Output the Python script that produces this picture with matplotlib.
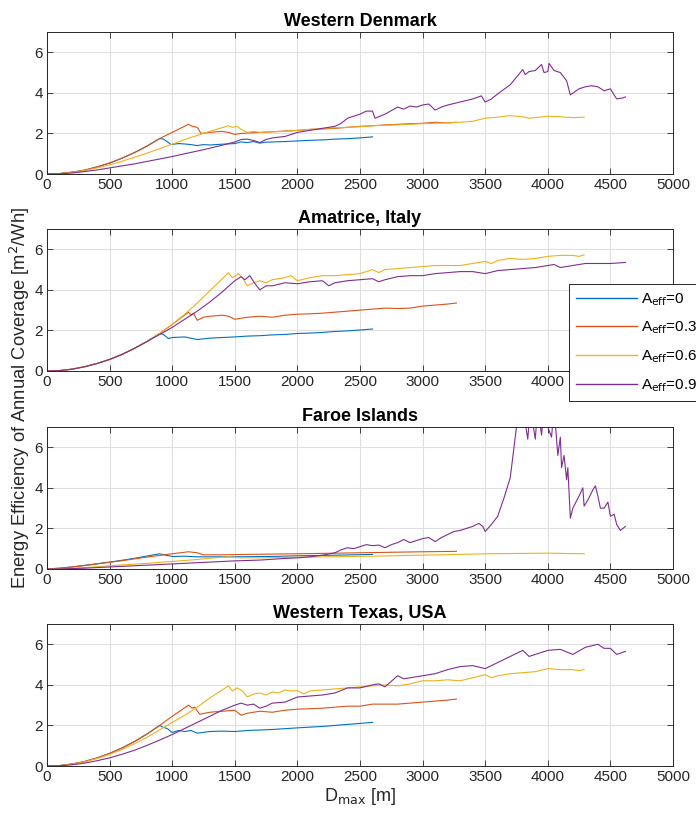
import numpy as np
import matplotlib.pyplot as plt

plt.rcParams['font.family'] = ['Liberation Sans', 'DejaVu Sans']

#data, x = D_max [m], y = energy efficiency
#Western Denmark
dk_a0_x = [0, 100, 200, 300, 400, 500, 600, 700, 800, 900, 930, 960, 990, 1050, 1100, 1150, 1200, 1250, 1300, 1400, 1500, 1550, 1600, 1650, 1700, 1750, 1800, 1900, 2000, 2100, 2200, 2300, 2400, 2500, 2600]
dk_a0_y = [0, 0.02, 0.09, 0.19, 0.35, 0.54, 0.78, 1.06, 1.38, 1.75, 1.72, 1.6, 1.45, 1.5, 1.48, 1.45, 1.4, 1.45, 1.43, 1.47, 1.5, 1.58, 1.55, 1.6, 1.52, 1.57, 1.58, 1.6, 1.63, 1.66, 1.68, 1.72, 1.74, 1.78, 1.83]
dk_a3_x = [0, 100, 200, 300, 400, 500, 600, 700, 800, 900, 1000, 1130, 1160, 1200, 1230, 1300, 1350, 1400, 1450, 1500, 1550, 1600, 1700, 1800, 1900, 2000, 2100, 2200, 2300, 2400, 2500, 2600, 2700, 2800, 2900, 3000, 3100, 3200, 3270]
dk_a3_y = [0, 0.02, 0.09, 0.19, 0.35, 0.54, 0.78, 1.06, 1.38, 1.75, 2.05, 2.45, 2.35, 2.3, 2.0, 2.05, 2.08, 2.1, 2.05, 1.95, 2.0, 2.02, 2.05, 2.08, 2.12, 2.15, 2.2, 2.22, 2.25, 2.3, 2.35, 2.38, 2.42, 2.45, 2.48, 2.5, 2.55, 2.52, 2.55]
dk_a6_x = [0, 100, 200, 300, 400, 500, 600, 700, 800, 900, 1000, 1100, 1200, 1300, 1450, 1480, 1520, 1550, 1600, 1650, 1700, 1800, 1900, 2000, 2100, 2200, 2300, 2400, 2500, 2600, 2700, 2800, 2900, 3000, 3100, 3200, 3300, 3400, 3500, 3600, 3700, 3750, 3800, 3850, 3900, 4000, 4100, 4200, 4290]
dk_a6_y = [0, 0.02, 0.08, 0.17, 0.3, 0.45, 0.63, 0.83, 1.03, 1.25, 1.47, 1.7, 1.9, 2.1, 2.38, 2.3, 2.35, 2.2, 2.05, 2.1, 2.05, 2.08, 2.1, 2.15, 2.2, 2.25, 2.28, 2.3, 2.33, 2.38, 2.4, 2.42, 2.45, 2.48, 2.5, 2.52, 2.55, 2.6, 2.75, 2.8, 2.88, 2.85, 2.82, 2.75, 2.78, 2.85, 2.82, 2.78, 2.8]
dk_a9_x = [0, 100, 200, 300, 400, 500, 600, 700, 800, 900, 1000, 1100, 1200, 1300, 1400, 1500, 1550, 1600, 1650, 1700, 1750, 1800, 1900, 2000, 2100, 2200, 2300, 2350, 2400, 2450, 2500, 2550, 2600, 2620, 2700, 2800, 2850, 2900, 2950, 3000, 3050, 3100, 3150, 3200, 3300, 3400, 3470, 3500, 3550, 3600, 3700, 3800, 3820, 3850, 3900, 3950, 3970, 4000, 4010, 4050, 4100, 4150, 4180, 4250, 4300, 4350, 4400, 4450, 4500, 4550, 4600, 4620]
dk_a9_y = [0, 0.01, 0.05, 0.12, 0.2, 0.3, 0.4, 0.5, 0.62, 0.74, 0.86, 1.0, 1.13, 1.27, 1.42, 1.58, 1.7, 1.72, 1.65, 1.55, 1.7, 1.78, 1.85, 2.05, 2.15, 2.25, 2.35, 2.5, 2.75, 2.85, 2.95, 3.1, 3.1, 2.75, 2.95, 3.3, 3.2, 3.35, 3.3, 3.4, 3.45, 3.15, 3.3, 3.4, 3.55, 3.7, 3.85, 3.55, 3.7, 3.95, 4.4, 5.15, 4.9, 5.05, 5.1, 5.4, 5.0, 5.05, 5.45, 5.1, 5.0, 4.6, 3.9, 4.2, 4.3, 4.35, 4.3, 4.1, 4.2, 3.7, 3.75, 3.8]

#Amatrice, Italy
it_a0_x = [0, 100, 200, 300, 400, 500, 600, 700, 800, 900, 930, 970, 1000, 1100, 1200, 1300, 1400, 1500, 1600, 1700, 1800, 1900, 2000, 2100, 2200, 2300, 2400, 2500, 2600]
it_a0_y = [0, 0.02, 0.09, 0.21, 0.37, 0.57, 0.82, 1.12, 1.46, 1.85, 1.8, 1.6, 1.65, 1.68, 1.55, 1.62, 1.65, 1.68, 1.72, 1.74, 1.78, 1.8, 1.85, 1.87, 1.9, 1.95, 1.98, 2.02, 2.07]
it_a3_x = [0, 100, 200, 300, 400, 500, 600, 700, 800, 900, 1000, 1130, 1150, 1170, 1200, 1250, 1300, 1400, 1450, 1500, 1600, 1700, 1800, 1900, 2000, 2100, 2200, 2300, 2400, 2500, 2600, 2700, 2800, 2900, 3000, 3100, 3200, 3270]
it_a3_y = [0, 0.02, 0.09, 0.21, 0.37, 0.57, 0.82, 1.12, 1.46, 1.85, 2.3, 2.9, 2.75, 2.85, 2.5, 2.65, 2.7, 2.75, 2.7, 2.55, 2.65, 2.7, 2.65, 2.75, 2.8, 2.82, 2.85, 2.9, 2.95, 3.0, 3.05, 3.1, 3.08, 3.1, 3.2, 3.25, 3.3, 3.35]
it_a6_x = [0, 100, 200, 300, 400, 500, 600, 700, 800, 900, 1000, 1100, 1200, 1300, 1400, 1450, 1480, 1530, 1560, 1600, 1650, 1700, 1750, 1800, 1900, 1950, 2000, 2100, 2200, 2300, 2400, 2500, 2600, 2650, 2700, 2800, 2900, 3000, 3100, 3200, 3300, 3400, 3500, 3550, 3600, 3700, 3800, 3900, 4000, 4100, 4200, 4250, 4290]
it_a6_y = [0, 0.02, 0.09, 0.21, 0.37, 0.57, 0.82, 1.12, 1.46, 1.85, 2.3, 2.8, 3.35, 3.95, 4.55, 4.85, 4.6, 4.8, 4.6, 4.2, 4.35, 4.45, 4.35, 4.5, 4.6, 4.7, 4.45, 4.6, 4.7, 4.7, 4.75, 4.8, 5.0, 4.85, 5.0, 5.05, 5.1, 5.15, 5.2, 5.2, 5.2, 5.3, 5.4, 5.3, 5.45, 5.55, 5.5, 5.55, 5.65, 5.7, 5.7, 5.65, 5.73]
it_a9_x = [0, 100, 200, 300, 400, 500, 600, 700, 800, 900, 1000, 1100, 1200, 1300, 1400, 1500, 1550, 1580, 1620, 1650, 1700, 1750, 1800, 1900, 2000, 2100, 2200, 2250, 2300, 2400, 2500, 2600, 2650, 2700, 2800, 2900, 3000, 3100, 3200, 3300, 3400, 3500, 3600, 3700, 3800, 3900, 4000, 4050, 4100, 4200, 4300, 4400, 4500, 4620]
it_a9_y = [0, 0.02, 0.09, 0.21, 0.37, 0.57, 0.82, 1.12, 1.46, 1.8, 2.15, 2.55, 2.95, 3.4, 3.9, 4.45, 4.65, 4.5, 4.7, 4.4, 4.0, 4.2, 4.2, 4.35, 4.3, 4.4, 4.45, 4.2, 4.35, 4.45, 4.5, 4.55, 4.4, 4.5, 4.65, 4.7, 4.7, 4.8, 4.85, 4.9, 4.9, 4.8, 4.95, 5.0, 5.05, 5.1, 5.2, 5.25, 5.1, 5.2, 5.3, 5.3, 5.3, 5.35]

#Faroe Islands
fo_a0_x = [0, 100, 200, 300, 400, 500, 600, 700, 800, 900, 950, 1000, 1100, 1200, 1500, 1800, 2000, 2300, 2600]
fo_a0_y = [0, 0.04, 0.1, 0.18, 0.26, 0.34, 0.43, 0.53, 0.64, 0.75, 0.68, 0.62, 0.63, 0.6, 0.6, 0.62, 0.65, 0.68, 0.72]
fo_a3_x = [0, 100, 200, 300, 400, 500, 600, 700, 800, 900, 1000, 1130, 1200, 1250, 1400, 1600, 2000, 2500, 3000, 3270]
fo_a3_y = [0, 0.04, 0.1, 0.17, 0.25, 0.33, 0.41, 0.5, 0.59, 0.67, 0.75, 0.85, 0.8, 0.7, 0.7, 0.72, 0.75, 0.8, 0.85, 0.87]
fo_a6_x = [0, 100, 200, 300, 400, 500, 600, 700, 800, 900, 1000, 1100, 1200, 1300, 1450, 1550, 1700, 2000, 2500, 3000, 3500, 4000, 4290]
fo_a6_y = [0, 0.01, 0.03, 0.07, 0.11, 0.16, 0.2, 0.24, 0.28, 0.33, 0.37, 0.42, 0.47, 0.53, 0.6, 0.55, 0.55, 0.58, 0.62, 0.68, 0.75, 0.78, 0.75]
fo_a9_x = [0, 100, 200, 300, 400, 500, 600, 700, 800, 900, 1000, 1100, 1200, 1300, 1400, 1500, 1600, 1700, 1800, 1900, 2000, 2100, 2200, 2300, 2350, 2400, 2450, 2500, 2550, 2600, 2650, 2700, 2750, 2800, 2850, 2900, 2950, 3000, 3050, 3100, 3150, 3200, 3250, 3300, 3350, 3400, 3450, 3480, 3500, 3550, 3600, 3650, 3700, 3730, 3760, 3800, 3840, 3860, 3900, 3920, 3950, 3970, 4000, 4030, 4050, 4080, 4100, 4110, 4130, 4150, 4160, 4180, 4200, 4250, 4280, 4290, 4320, 4360, 4380, 4400, 4420, 4450, 4480, 4500, 4530, 4550, 4580, 4620]
fo_a9_y = [0, 0.005, 0.02, 0.04, 0.07, 0.1, 0.13, 0.16, 0.19, 0.22, 0.25, 0.28, 0.31, 0.34, 0.37, 0.4, 0.42, 0.44, 0.48, 0.52, 0.55, 0.6, 0.68, 0.8, 0.95, 1.05, 1.0, 1.1, 1.2, 1.15, 1.18, 1.05, 1.2, 1.3, 1.45, 1.3, 1.4, 1.5, 1.55, 1.35, 1.55, 1.7, 1.85, 1.9, 2.0, 2.1, 2.25, 2.1, 1.85, 2.2, 2.6, 3.5, 4.5, 6.0, 7.5, 8.0, 6.4, 8.0, 6.4, 8.0, 6.6, 8.0, 7.0, 6.5, 8.0, 5.6, 6.5, 5.0, 5.6, 4.4, 5.0, 2.5, 3.0, 3.6, 4.0, 3.1, 3.4, 3.9, 4.1, 3.6, 3.0, 3.0, 3.3, 2.6, 2.7, 2.2, 1.9, 2.1]

#Western Texas, USA
us_a0_x = [0, 100, 200, 300, 400, 500, 600, 700, 800, 900, 930, 960, 1000, 1050, 1100, 1150, 1200, 1300, 1400, 1500, 1600, 1800, 2000, 2200, 2400, 2600]
us_a0_y = [0, 0.02, 0.1, 0.22, 0.4, 0.62, 0.89, 1.21, 1.58, 2.0, 1.9, 1.85, 1.65, 1.75, 1.7, 1.75, 1.62, 1.7, 1.72, 1.7, 1.75, 1.8, 1.88, 1.95, 2.05, 2.15]
us_a3_x = [0, 100, 200, 300, 400, 500, 600, 700, 800, 900, 1000, 1130, 1160, 1180, 1220, 1300, 1400, 1500, 1550, 1600, 1700, 1800, 1900, 2000, 2200, 2400, 2500, 2600, 2800, 3000, 3100, 3200, 3270]
us_a3_y = [0, 0.02, 0.1, 0.22, 0.4, 0.62, 0.89, 1.21, 1.58, 2.0, 2.45, 3.0, 2.85, 2.9, 2.55, 2.65, 2.7, 2.75, 2.5, 2.6, 2.7, 2.65, 2.75, 2.8, 2.85, 2.95, 2.95, 3.05, 3.05, 3.15, 3.2, 3.25, 3.3]
us_a6_x = [0, 100, 200, 300, 400, 500, 600, 700, 800, 900, 1000, 1100, 1200, 1300, 1450, 1480, 1520, 1560, 1600, 1650, 1700, 1750, 1800, 1850, 1900, 1950, 2000, 2050, 2100, 2200, 2300, 2400, 2500, 2600, 2700, 2800, 2900, 3000, 3100, 3200, 3300, 3400, 3500, 3550, 3600, 3700, 3800, 3900, 4000, 4100, 4200, 4250, 4290]
us_a6_y = [0, 0.02, 0.09, 0.2, 0.37, 0.57, 0.82, 1.1, 1.42, 1.78, 2.15, 2.5, 2.9, 3.35, 3.95, 3.7, 3.85, 3.7, 3.4, 3.55, 3.6, 3.5, 3.65, 3.6, 3.75, 3.7, 3.72, 3.55, 3.7, 3.75, 3.8, 3.85, 3.9, 3.95, 4.0, 3.95, 4.05, 4.2, 4.2, 4.25, 4.2, 4.35, 4.5, 4.35, 4.45, 4.55, 4.6, 4.65, 4.8, 4.75, 4.75, 4.7, 4.75]
us_a9_x = [0, 100, 200, 300, 400, 500, 600, 700, 800, 900, 1000, 1100, 1200, 1300, 1400, 1500, 1550, 1600, 1650, 1700, 1750, 1800, 1900, 2000, 2100, 2200, 2300, 2400, 2500, 2600, 2650, 2700, 2800, 2850, 2900, 3000, 3100, 3200, 3300, 3400, 3500, 3600, 3700, 3800, 3850, 3900, 4000, 4100, 4200, 4300, 4400, 4450, 4500, 4550, 4620]
us_a9_y = [0, 0.01, 0.06, 0.14, 0.26, 0.4, 0.58, 0.78, 1.02, 1.28, 1.55, 1.85, 2.15, 2.45, 2.75, 3.0, 3.1, 3.0, 3.05, 2.85, 2.95, 3.1, 3.15, 3.4, 3.45, 3.5, 3.6, 3.85, 3.85, 4.0, 4.05, 3.9, 4.45, 4.3, 4.35, 4.45, 4.55, 4.75, 4.9, 4.95, 4.8, 5.1, 5.4, 5.7, 5.4, 5.5, 5.7, 5.75, 5.5, 5.85, 6.0, 5.8, 5.8, 5.5, 5.65]

titles = ['Western Denmark', 'Amatrice, Italy', 'Faroe Islands', 'Western Texas, USA']
labels = ['A$_{\\rm eff}$=0', 'A$_{\\rm eff}$=0.3', 'A$_{\\rm eff}$=0.6', 'A$_{\\rm eff}$=0.9']
colors = ['#0072BD', '#D95319', '#EDB120', '#7E2F8E']

panels = [
    [(dk_a0_x, dk_a0_y), (dk_a3_x, dk_a3_y), (dk_a6_x, dk_a6_y), (dk_a9_x, dk_a9_y)],
    [(it_a0_x, it_a0_y), (it_a3_x, it_a3_y), (it_a6_x, it_a6_y), (it_a9_x, it_a9_y)],
    [(fo_a0_x, fo_a0_y), (fo_a3_x, fo_a3_y), (fo_a6_x, fo_a6_y), (fo_a9_x, fo_a9_y)],
    [(us_a0_x, us_a0_y), (us_a3_x, us_a3_y), (us_a6_x, us_a6_y), (us_a9_x, us_a9_y)],
]

fig = plt.figure(figsize=(6.96, 8.26), dpi=100)

#axes positions in pixels (top, bottom) of each panel
W, H = 696, 826
left, right = 47, 673
rows = [(32, 174), (229, 371), (427, 569), (624, 766)]

dark = '#262626'
for i, (top, bot) in enumerate(rows):
    ax = fig.add_axes([left / W, 1 - bot / H, (right - left) / W, (bot - top) / H])
    for j, (x, y) in enumerate(panels[i]):
        ax.plot(x, y, color=colors[j], lw=0.8, label=labels[j])
    ax.set_xlim(0, 5000)
    ax.set_ylim(0, 7)
    ax.set_xticks(np.arange(0, 5001, 500))
    ax.set_yticks([0, 2, 4, 6])
    ax.grid(True, color='#dfdfdf', lw=0.8)
    ax.set_axisbelow(True)
    ax.tick_params(direction='in', top=True, right=True, length=4, width=0.6,
                   labelsize=11, colors=dark, pad=3)
    for s in ax.spines.values():
        s.set_color(dark)
        s.set_linewidth(0.7)
    ax.set_title(titles[i], fontsize=13, fontweight='bold', color='black', pad=4)
    if i == 3:
        ax.set_xlabel('D$_{\\rm max}$ [m]', fontsize=13, color=dark, labelpad=1)
        handles, labs = ax.get_legend_handles_labels()

fig.text(20 / W, 1 - 398 / H, 'Energy Efficiency of Annual Coverage [m$^2$/Wh]',
         rotation=90, ha='center', va='center', fontsize=13.2, color=dark)

#legend sits over panels 2 and 3 and runs off the right edge, as in the original
leg = fig.legend(handles, labs, loc='upper left', bbox_to_anchor=(569 / W, 1 - 284 / H),
                 borderaxespad=0, fontsize=11, handlelength=4.0, handletextpad=0.25,
                 labelspacing=0.8, borderpad=0.45, fancybox=False, framealpha=1,
                 edgecolor=dark)
leg.get_frame().set_linewidth(0.7)
for h in leg.get_lines():
    h.set_linewidth(1.0)

plt.savefig('out.png', dpi=100)
